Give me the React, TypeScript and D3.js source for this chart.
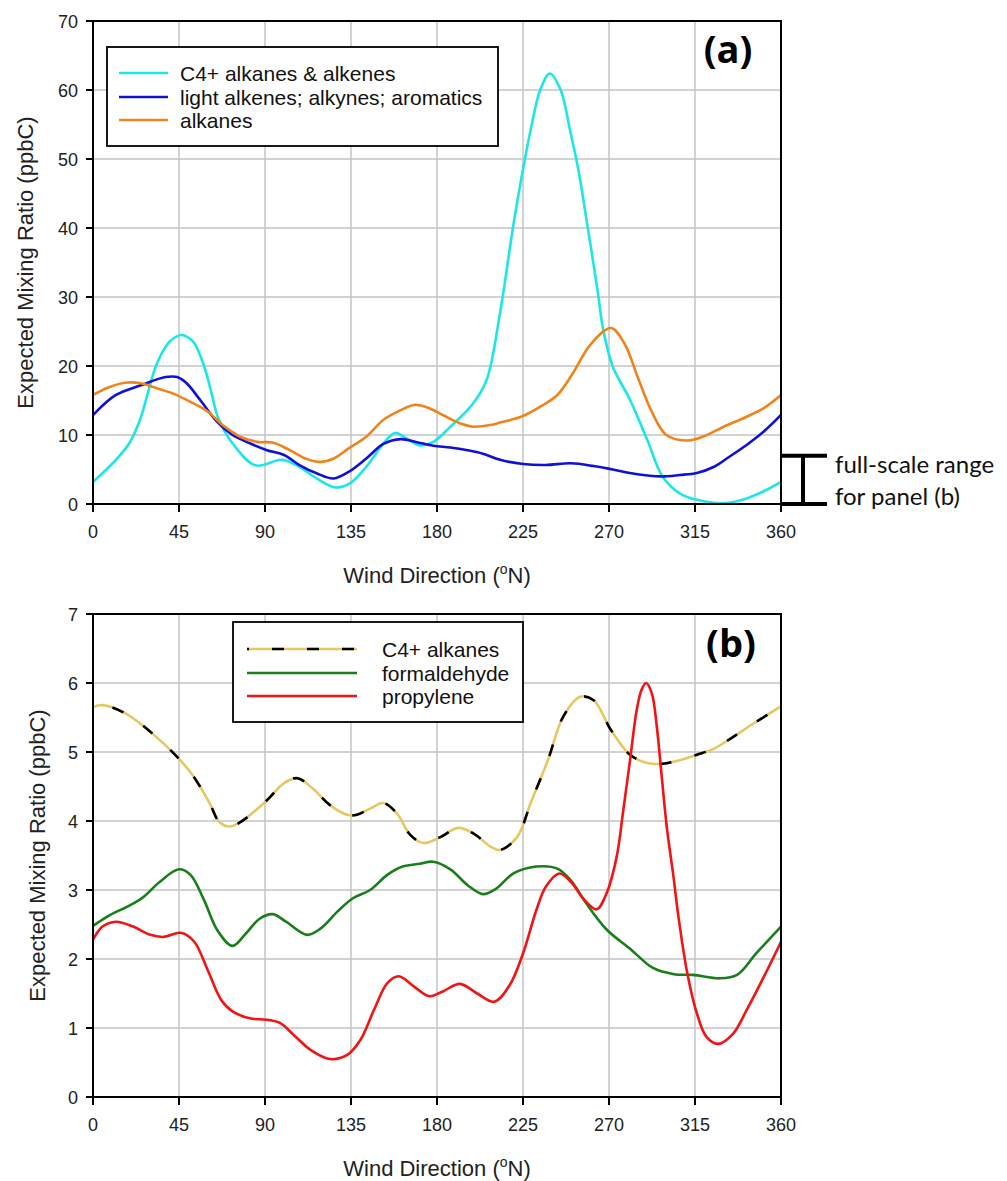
import React from 'react';
import * as d3 from 'd3';

// ---------- data ----------
const xTicks = [0, 45, 90, 135, 180, 225, 270, 315, 360];
const yTicksA = [0, 10, 20, 30, 40, 50, 60, 70];
const yTicksB = [0, 1, 2, 3, 4, 5, 6, 7];

// panel (a)
const c4AlkAlkDeg = [0,12,19,24.6,28.9,32.4,35.9,40.3,46.4,52.5,56,58.6,62.1,65.6,73,85,99,108,117,127,134,143,152,158,164,171,178,187,199,206,213,220,225,229,234,239,244.7,249.6,254,258,264,267,272,281,290,298,307,316,330,342,352,360];
const c4AlkAlkVal = [3.2,6.4,8.8,12.2,16.3,19.6,21.8,23.6,24.5,23.5,21.6,19.6,16.0,12.4,8.8,5.6,6.4,5.4,3.7,2.4,2.9,5.4,8.8,10.3,9.5,8.5,9.0,11.2,14.6,18.0,27.7,40.5,48.5,54.2,60.0,62.4,60.0,54.2,48.4,41.6,31.0,25.2,19.9,15.1,9.3,4.0,1.55,0.6,0.1,0.8,2.0,3.2];

const lightDeg = [0,12,25,38,44,49,56,65,73,82,91,100,108,117,126,134,143,152,161,169,178,187,196,204,213,225,237,250,262,272,284,297,307,316,325,333,342,351,360];
const lightVal = [12.9,15.8,17.2,18.4,18.4,17.5,15.1,11.9,10.0,8.8,7.8,7.1,5.65,4.45,3.7,4.7,6.6,8.7,9.4,9.0,8.45,8.2,7.8,7.3,6.4,5.8,5.65,5.9,5.5,5.0,4.35,4.0,4.2,4.5,5.4,6.85,8.55,10.5,12.9];

const alkanesDeg = [0,9,18,25,33,42,51,60,68,77,86,94,103,112,119,126,134,143,152,161,168,175,183,192,199,208,213,225,234,243,251,260,271,278,285,292,300,311,319,330,342,351,360];
const alkanesVal = [15.8,17.0,17.6,17.5,16.8,16.0,14.8,13.4,11.4,9.75,9.0,8.9,7.8,6.5,6.1,6.6,8.1,9.75,12.2,13.6,14.35,14.0,12.9,11.7,11.2,11.45,11.8,12.75,14.1,15.8,18.9,23.0,25.5,23.3,18.4,13.6,10.0,9.2,9.75,11.2,12.65,13.9,15.8];

// panel (b)
const c4AlkDeg = [0,5,17,31,44,52,61,66,71.5,78.5,91,100,107,115,124,133,138,145,152,159,166,173,182,191,199,208,213,222,229,238,246,255,262,271,281,290,298,307,316,325,335,346,360];
const c4AlkVal = [5.65,5.68,5.56,5.27,4.93,4.67,4.26,3.99,3.92,4.01,4.30,4.55,4.62,4.47,4.23,4.09,4.09,4.18,4.26,4.11,3.80,3.68,3.77,3.90,3.82,3.63,3.58,3.77,4.26,4.88,5.51,5.80,5.75,5.32,4.96,4.84,4.83,4.88,4.96,5.05,5.22,5.42,5.66];

const formDeg = [0,9,18,26,35,45,51,58,65,73,80,87,94,101,112,119,128,136,145,154,162,171,178,187,196,204,211,220,232,243,250,258,269,281,293,304,314,328,337,347,360];
const formVal = [2.48,2.64,2.76,2.89,3.12,3.30,3.22,2.86,2.42,2.19,2.37,2.58,2.65,2.54,2.35,2.44,2.69,2.88,3.0,3.22,3.34,3.38,3.41,3.30,3.07,2.94,3.02,3.24,3.34,3.31,3.14,2.81,2.42,2.15,1.87,1.78,1.77,1.72,1.77,2.08,2.47];

const propDeg = [0,5,12,21,30,37,46,53,60,67,73,82,91,98,105,114,124,133,140,147,154,160,168,176,183,192,201,210,218,225,232,237,244,250,257,263.5,268.7,274,277.5,281,284.5,287,289.4,292.4,295,297.6,300.2,303.7,306.3,311,316,321,327,335,342,351,360];
const propVal = [2.28,2.47,2.54,2.47,2.35,2.32,2.38,2.25,1.84,1.41,1.24,1.14,1.12,1.07,0.90,0.68,0.55,0.61,0.83,1.26,1.65,1.75,1.60,1.46,1.53,1.64,1.50,1.38,1.62,2.08,2.71,3.05,3.24,3.12,2.86,2.72,2.95,3.48,4.16,4.88,5.61,5.9,6.0,5.85,5.37,4.64,3.92,3.2,2.62,1.79,1.21,0.87,0.77,0.92,1.26,1.74,2.25];

const legendA = ['C4+ alkanes & alkenes', 'light alkenes; alkynes; aromatics', 'alkanes'];
const legendB = ['C4+ alkanes', 'formaldehyde', 'propylene'];

// ---------- styling ----------
const FONT = '"Liberation Sans", Arial, sans-serif';
const LABEL_FONT = '"Open Sans", Lato, sans-serif';
const NOTE_FONT = 'Lato, "Open Sans", sans-serif';
const CYAN = '#1CE6E6';
const BLUE = '#1010D8';
const ORANGE = '#F0841A';
const YELLOW = '#E6C862';
const GREEN = '#1A7E1A';
const RED = '#F21414';
const GRID = '#C4C4C4';

const LEFT = 93;
const RIGHT = 781;

type Series = { deg: number[]; val: number[]; color: string; dashed?: boolean };

function Panel(props: {
  id: string;
  top: number;
  bottom: number;
  yMax: number;
  yTicks: number[];
  series: Series[];
  label: string;
  labelX: number;
  labelBaseline: number;
  yTitleX: number;
  legend: { x: number; y: number; w: number; h: number; lineX1: number; lineX2: number; textX: number; rows: number[]; names: string[] };
}) {
  const { id, top, bottom, yMax, yTicks, series, legend } = props;
  const x = d3.scaleLinear().domain([0, 360]).range([LEFT, RIGHT]);
  const y = d3.scaleLinear().domain([0, yMax]).range([bottom, top]);
  const line = d3
    .line<[number, number]>()
    .x((d) => x(d[0]))
    .y((d) => y(d[1]))
    .curve(d3.curveCatmullRom.alpha(0.5));
  const midY = (top + bottom) / 2;
  return (
    <g>
      <defs>
        <clipPath id={id}>
          <rect x={LEFT} y={top} width={RIGHT - LEFT} height={bottom - top} />
        </clipPath>
      </defs>
      {/* grid */}
      {xTicks.map((t) => (
        <line key={'gx' + t} x1={x(t)} x2={x(t)} y1={top} y2={bottom} stroke={GRID} strokeWidth={1.5} />
      ))}
      {yTicks.map((t) => (
        <line key={'gy' + t} x1={LEFT} x2={RIGHT} y1={y(t)} y2={y(t)} stroke={GRID} strokeWidth={1.5} />
      ))}
      {/* series */}
      <g clipPath={`url(#${id})`}>
        {series.map((s, i) => {
          const pts = s.deg.map((d, k) => [d, s.val[k]] as [number, number]);
          const p = line(pts) || '';
          return (
            <g key={i}>
              <path d={p} fill="none" stroke={s.color} strokeWidth={2.6} />
              {s.dashed && <path d={p} fill="none" stroke="#000" strokeWidth={2.6} strokeDasharray="12 24" strokeDashoffset={-20} />}
            </g>
          );
        })}
      </g>
      {/* frame */}
      <rect x={LEFT} y={top} width={RIGHT - LEFT} height={bottom - top} fill="none" stroke="#000" strokeWidth={2} />
      {/* ticks */}
      {xTicks.map((t) => (
        <g key={'tx' + t}>
          <line x1={x(t)} x2={x(t)} y1={bottom} y2={bottom + 8} stroke="#000" strokeWidth={2} />
          <text x={x(t)} y={bottom + 34} textAnchor="middle" fontFamily={FONT} fontSize={18} fill="#222">
            {t}
          </text>
        </g>
      ))}
      {yTicks.map((t) => (
        <g key={'ty' + t}>
          <line x1={LEFT - 7} x2={LEFT} y1={y(t)} y2={y(t)} stroke="#000" strokeWidth={2} />
          <text x={78} y={y(t) + 6.5} textAnchor="end" fontFamily={FONT} fontSize={18} fill="#222">
            {t}
          </text>
        </g>
      ))}
      {/* axis titles */}
      <text x={(LEFT + RIGHT) / 2} y={bottom + 79} textAnchor="middle" fontFamily={FONT} fontSize={22} fill="#222">
        Wind Direction (<tspan fontSize={14} dy={-9}>o</tspan>
        <tspan dy={9}>N)</tspan>
      </text>
      <text
        transform={`translate(${props.yTitleX},${midY}) rotate(-90)`}
        textAnchor="middle"
        fontFamily={FONT}
        fontSize={22}
        fill="#222"
      >
        Expected Mixing Ratio (ppbC)
      </text>
      {/* panel label */}
      <text x={props.labelX} y={props.labelBaseline} textAnchor="middle" fontFamily={LABEL_FONT} fontWeight="bold" fontSize={38} fill="#000">
        {props.label}
      </text>
      {/* legend */}
      <rect x={legend.x} y={legend.y} width={legend.w} height={legend.h} fill="#fff" stroke="#000" strokeWidth={1.8} />
      {series.map((s, i) => (
        <g key={'lg' + i}>
          <line x1={legend.lineX1} x2={legend.lineX2} y1={legend.rows[i]} y2={legend.rows[i]} stroke={s.color} strokeWidth={2.6} />
          {s.dashed && (
            <line
              x1={legend.lineX1}
              x2={legend.lineX2}
              y1={legend.rows[i]}
              y2={legend.rows[i]}
              stroke="#000"
              strokeWidth={2.6}
              strokeDasharray="12 23"
              strokeDashoffset={-25}
            />
          )}
          <text x={legend.textX} y={legend.rows[i] + 7.5} fontFamily={FONT} fontSize={21} fill="#111">
            {legend.names[i]}
          </text>
        </g>
      ))}
    </g>
  );
}

export default function App() {
  const yA = d3.scaleLinear().domain([0, 70]).range([504, 21]);
  const seriesA: Series[] = [
    { deg: c4AlkAlkDeg, val: c4AlkAlkVal, color: CYAN },
    { deg: lightDeg, val: lightVal, color: BLUE },
    { deg: alkanesDeg, val: alkanesVal, color: ORANGE },
  ];
  const seriesB: Series[] = [
    { deg: c4AlkDeg, val: c4AlkVal, color: YELLOW, dashed: true },
    { deg: formDeg, val: formVal, color: GREEN },
    { deg: propDeg, val: propVal, color: RED },
  ];
  const bTop = yA(7);
  const bBot = yA(0);
  return (
    <svg
      width={1007}
      height={1181}
      style={{ position: 'absolute', left: 0, top: 0, background: '#fff' }}
      xmlns="http://www.w3.org/2000/svg"
    >
      <rect width={1007} height={1181} fill="#fff" />
      <Panel
        id="clipA"
        top={21}
        bottom={504}
        yMax={70}
        yTicks={yTicksA}
        series={seriesA}
        label="(a)"
        labelX={728}
        labelBaseline={63}
        yTitleX={33}
        legend={{ x: 107, y: 47, w: 391, h: 99, lineX1: 119, lineX2: 168, textX: 180, rows: [73, 97, 120], names: legendA }}
      />
      <Panel
        id="clipB"
        top={614}
        bottom={1097}
        yMax={7}
        yTicks={yTicksB}
        series={seriesB}
        label="(b)"
        labelX={731}
        labelBaseline={657}
        yTitleX={45}
        legend={{ x: 233, y: 622, w: 290, h: 100, lineX1: 247, lineX2: 357, textX: 382, rows: [649, 673, 696], names: legendB }}
      />
      {/* full-scale range bracket */}
      <line x1={803} x2={803} y1={bTop} y2={bBot} stroke="#000" strokeWidth={4} />
      <line x1={782} x2={827} y1={bTop} y2={bTop} stroke="#000" strokeWidth={4} />
      <line x1={782} x2={827} y1={bBot} y2={bBot} stroke="#000" strokeWidth={4} />
      <text x={835} y={473} fontFamily={NOTE_FONT} fontSize={24} fill="#111">
        full-scale range
      </text>
      <text x={835} y={505} fontFamily={NOTE_FONT} fontSize={24} fill="#111">
        for panel (b)
      </text>
    </svg>
  );
}
